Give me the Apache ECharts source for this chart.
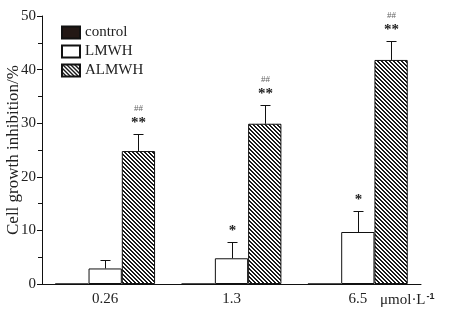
<!DOCTYPE html>
<html>
<head>
<meta charset="utf-8">
<script src="https://cdn.jsdelivr.net/npm/echarts@6/dist/echarts.min.js"></script>
<style>
  html, body { margin: 0; padding: 0; background: #fff; }
  #chart { width: 451px; height: 326px; }
</style>
</head>
<body>
<div id="chart"></div>
<script>
// 浓度 / 各组数据
var doses = ['0.26', '1.3', '6.5'];
var controlVals = [0, 0, 0];
var lmwhVals = [2.9, 4.8, 9.7];
var lmwhErr = [1.5, 3.0, 3.9];
var almwhVals = [24.8, 29.9, 41.8];
var almwhErr = [3.2, 3.5, 3.6];
var lmwhMark = ['', '*', '*'];
var almwhMark = ['**', '**', '**'];
var almwhSig = ['##', '##', '##'];

var serif = 'Liberation Serif, Times New Roman, serif';
var gapPct = 0.21;

// 斜线填充
function hatch() {
  var c = document.createElement('canvas');
  var n = 4;
  c.width = n; c.height = n;
  var ctx = c.getContext('2d');
  ctx.fillStyle = '#fff';
  ctx.fillRect(0, 0, n, n);
  ctx.fillStyle = '#1a1a1a';
  for (var x = 0; x < n; x++) {
    for (var y = 0; y < n; y++) {
      var d = ((x - y) % n + n) % n;
      if (d === 0 || d === 1) ctx.fillRect(x, y, 1, 1);
    }
  }
  return c;
}

// 误差线 + 显著性标记
function errSeries(vals, errs, k, marks, sigs) {
  var data = vals.map(function (v, i) { return [i, v, errs[i]]; });
  return {
    type: 'custom',
    silent: true,
    z: 5,
    data: data,
    encode: { x: 0, y: 1 },
    renderItem: function (params, api) {
      var i = api.value(0), v = api.value(1), e = api.value(2);
      var band = api.size([1, 0])[0];
      var bw = band * (1 - gapPct) / 3;
      var x = Math.round(api.coord([i, v])[0] + k * bw) + 0.5;
      var y0 = api.coord([i, v])[1];
      var y1 = Math.round(api.coord([i, v + e])[1]) + 0.5;
      var line = { stroke: '#111', lineWidth: 1 };
      var kids = [
        { type: 'line', shape: { x1: x, y1: y0, x2: x, y2: y1 }, style: line },
        { type: 'line', shape: { x1: x - 5, y1: y1, x2: x + 5, y2: y1 }, style: line }
      ];
      if (marks[i]) {
        kids.push({ type: 'text', style: { text: marks[i], x: x, y: y1 - 4, align: 'center', verticalAlign: 'bottom',
          font: 'bold 15px ' + serif, fill: '#222' } });
      }
      if (sigs && sigs[i]) {
        kids.push({ type: 'text', style: { text: sigs[i], x: x, y: y1 - 21, align: 'center', verticalAlign: 'bottom',
          font: '9px ' + serif, fill: '#666' } });
      }
      return { type: 'group', children: kids };
    }
  };
}

var chart = echarts.init(document.getElementById('chart'));
var option = {
  animation: false,
  backgroundColor: '#fff',
  grid: { left: 42, right: 30, top: 16, bottom: 42, outerBoundsMode: 'none' },
  legend: {
    orient: 'vertical',
    left: 61,
    top: 25,
    padding: 0,
    itemWidth: 18,
    itemHeight: 12,
    itemGap: 4,
    icon: 'rect',
    data: ['control', 'LMWH', 'ALMWH'],
    textStyle: { fontFamily: serif, fontSize: 15, color: '#222' }
  },
  xAxis: {
    type: 'category',
    data: doses,
    name: '{a|μmol·L}{b|-1}',
    nameLocation: 'end',
    nameGap: -41,
    nameTextStyle: {
      verticalAlign: 'top',
      padding: [8, 0, 0, 0],
      rich: {
        a: { fontFamily: serif, fontSize: 15, color: '#222' },
        b: { fontFamily: 'Liberation Sans, Arial, sans-serif', fontSize: 9, fontWeight: 'bold', color: '#222', verticalAlign: 'top', padding: [0, 0, 8, 1] }
      }
    },
    axisLine: { lineStyle: { color: '#111', width: 1 } },
    axisTick: { inside: true, length: 4, lineStyle: { color: '#111' } },
    axisLabel: { margin: 8, fontFamily: serif, fontSize: 15, color: '#222' },
    splitLine: { show: false }
  },
  yAxis: {
    type: 'value',
    min: 0,
    max: 50,
    interval: 10,
    name: 'Cell growth inhibition/%',
    nameLocation: 'middle',
    nameGap: 20,
    nameMoveOverlap: false,
    nameTextStyle: { fontFamily: serif, fontSize: 17, color: '#222' },
    axisLine: { show: true, lineStyle: { color: '#111', width: 1 } },
    axisTick: { show: true, length: 5, lineStyle: { color: '#111' } },
    minorTick: { show: true, splitNumber: 2, length: 4, lineStyle: { color: '#111' } },
    axisLabel: { margin: 6, fontFamily: serif, fontSize: 15, color: '#222' },
    splitLine: { show: false }
  },
  series: [
    {
      name: 'control', type: 'bar', data: controlVals,
      barGap: 0, barCategoryGap: (gapPct * 100) + '%',
      itemStyle: { color: '#231815', borderColor: '#111', borderWidth: 1 }
    },
    {
      name: 'LMWH', type: 'bar', data: lmwhVals,
      barGap: 0, barCategoryGap: (gapPct * 100) + '%',
      itemStyle: { color: '#fff', borderColor: '#111', borderWidth: 1 }
    },
    {
      name: 'ALMWH', type: 'bar', data: almwhVals,
      barGap: 0, barCategoryGap: (gapPct * 100) + '%',
      itemStyle: { color: { image: hatch(), repeat: 'repeat' }, borderColor: '#111', borderWidth: 1 }
    },
    errSeries(lmwhVals, lmwhErr, 0, lmwhMark, null),
    errSeries(almwhVals, almwhErr, 1, almwhMark, almwhSig)
  ]
};
chart.setOption(option);
</script>
</body>
</html>
